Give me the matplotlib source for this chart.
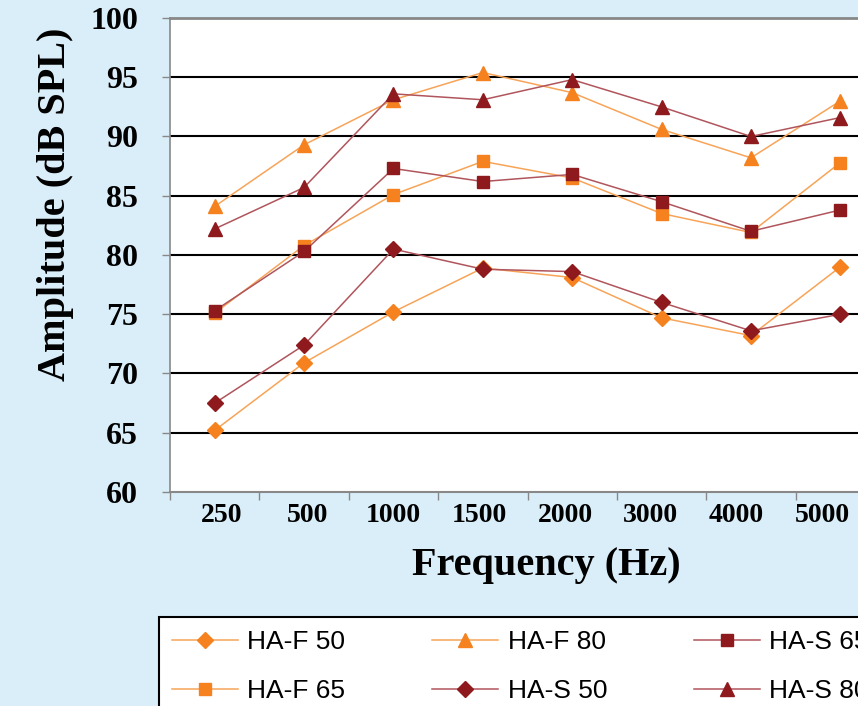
import matplotlib
matplotlib.use("Agg")
import matplotlib.pyplot as plt

# ------------------------------------------------------------
# Daten
# ------------------------------------------------------------
freqs = ["250", "500", "1000", "1500", "2000", "3000", "4000", "5000"]

ha_f_50 = [65.2, 70.9, 75.2, 78.9, 78.1, 74.7, 73.2, 79.0]
ha_f_65 = [75.1, 80.8, 85.1, 87.9, 86.5, 83.5, 81.9, 87.8]
ha_f_80 = [84.1, 89.3, 93.1, 95.4, 93.7, 90.6, 88.2, 93.0]
ha_s_50 = [67.5, 72.4, 80.5, 78.8, 78.6, 76.0, 73.6, 75.0]
ha_s_65 = [75.3, 80.3, 87.3, 86.2, 86.8, 84.5, 82.0, 83.8]
ha_s_80 = [82.2, 85.7, 93.6, 93.1, 94.8, 92.5, 90.0, 91.6]

y_ticks = [60, 65, 70, 75, 80, 85, 90, 95, 100]

BG = "#daeef9"
ORANGE = "#f5821f"
ORANGE_LINE = "#f7a458"
RED = "#8e1a1e"
RED_LINE = "#b0555c"

serif = ["Liberation Serif", "DejaVu Serif"]

fig = plt.figure(figsize=(8.58, 7.06), dpi=100, facecolor=BG)
ax = fig.add_axes([170 / 858, 1 - 492 / 706, 715 / 858, 474 / 706])
ax.set_facecolor("white")

x = list(range(len(freqs)))

# Reihenfolge spaltenweise fuer die Legende (3 Spalten, 2 Zeilen)
series = [
    ("HA-F 50", ha_f_50, ORANGE, ORANGE_LINE, "D", 8),
    ("HA-F 65", ha_f_65, ORANGE, ORANGE_LINE, "s", 9),
    ("HA-F 80", ha_f_80, ORANGE, ORANGE_LINE, "^", 10),
    ("HA-S 50", ha_s_50, RED, RED_LINE, "D", 8),
    ("HA-S 65", ha_s_65, RED, RED_LINE, "s", 9),
    ("HA-S 80", ha_s_80, RED, RED_LINE, "^", 10),
]

handles = []
for name, vals, mc, lc, mk, ms in series:
    h, = ax.plot(x, vals, color=lc, lw=1.1, marker=mk, markersize=ms,
                 markerfacecolor=mc, markeredgecolor=mc, label=name, zorder=3)
    handles.append(h)

# Gitter
for yv in y_ticks[1:-1]:
    ax.axhline(yv, color="black", lw=1.5, zorder=1)

ax.set_xlim(-0.5, len(freqs) - 0.5)
ax.set_ylim(60, 100)

ax.set_yticks(y_ticks)
ax.set_yticklabels([str(v) for v in y_ticks], fontfamily=serif,
                   fontweight="bold", fontsize=23)
ax.tick_params(axis="y", direction="out", length=6, width=1,
               color="#888888", pad=17)

ax.set_xticks([i - 0.5 for i in range(len(freqs) + 1)])
ax.set_xticklabels([])
ax.tick_params(axis="x", which="major", direction="out", length=6,
               width=1, color="#888888")
# Beschriftungen im Original leicht gestaucht (rechts nicht abgeschnitten)
ax.set_xticks([0.08 + 0.96 * i for i in x], minor=True)
ax.set_xticklabels(freqs, minor=True, fontfamily=serif,
                   fontweight="bold", fontsize=20)
ax.tick_params(axis="x", which="minor", length=0, pad=8)

for side in ["left", "bottom", "top"]:
    ax.spines[side].set_color("#888888")
ax.spines["left"].set_linewidth(1.2)
ax.spines["bottom"].set_linewidth(1.5)
ax.spines["top"].set_linewidth(2)
ax.spines["right"].set_visible(False)

fig.text(56 / 858, 1 - 204 / 706, "Amplitude (dB SPL)", rotation=90,
         ha="center", va="center", fontfamily=serif, fontweight="bold",
         fontsize=29)
fig.text(546 / 858, 1 - 565 / 706, "Frequency (Hz)", ha="center",
         va="center", fontfamily=serif, fontweight="bold", fontsize=29)

leg = fig.legend(handles=handles, loc="upper left",
                 bbox_to_anchor=(159 / 858, 1 - 617 / 706), ncol=3,
                 prop={"family": ["Liberation Sans", "DejaVu Sans"], "size": 19},
                 frameon=True, fancybox=False, handlelength=2.5,
                 handletextpad=0.35, columnspacing=3.3, labelspacing=0.95,
                 borderpad=0.5, borderaxespad=0)
leg.get_frame().set_edgecolor("black")
leg.get_frame().set_linewidth(1.5)
leg.get_frame().set_facecolor("white")
leg.get_frame().set_alpha(1)

fig.savefig("out.png", dpi=100, facecolor=BG)
